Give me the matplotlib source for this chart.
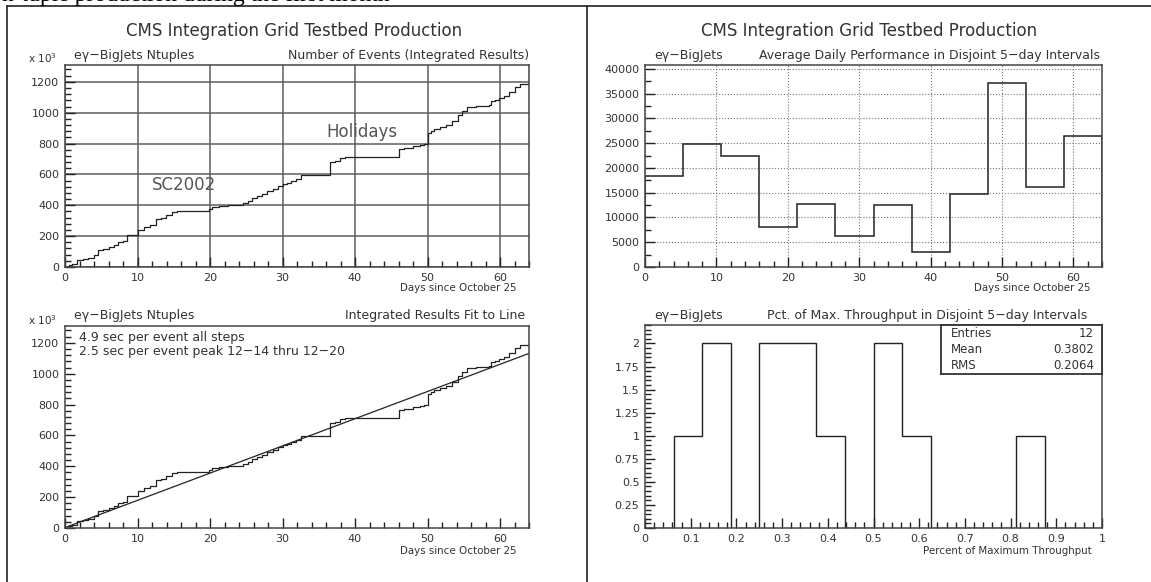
import numpy as np
import matplotlib
matplotlib.use("Agg")
import matplotlib.pyplot as plt
from matplotlib.lines import Line2D
from matplotlib.ticker import MultipleLocator, FormatStrFormatter

plt.rcParams['font.family'] = ['DejaVu Sans']

# cumulative events (thousands)
days = [0, 0.5, 1, 1.7, 2.5, 3.2, 4, 4.6, 5.3, 6, 6.7, 7.3, 8, 8.6, 9.3,
        10.1, 10.9, 11.7, 12.6, 13.2, 13.9, 14.7, 15.5, 17, 18.5, 19.8, 20.3,
        21.3, 22.5, 23.9, 24.5, 25.2, 25.8, 26.5, 27.2, 27.9, 28.7, 29.4, 30,
        30.6, 31.2, 31.8, 32.5, 36.6, 37.2, 37.9, 38.6, 46, 46.8, 48, 49, 49.5,
        50, 50.5, 50.9, 51.7, 52.6, 53.4, 54.2, 54.8, 55.5, 56.7, 58.5, 58.8,
        59.3, 59.8, 60.5, 61.3, 62.1, 62.8, 64]
events = [0, 12, 22, 45, 50, 56, 76, 113, 118, 130, 140, 163, 168, 205, 207,
          238, 260, 270, 308, 315, 336, 355, 360, 362, 365, 375, 392,
          397, 400, 402, 412, 428, 445, 462, 472, 495, 505, 522, 540,
          545, 555, 570, 598, 680, 690, 705, 712, 766, 770, 782, 790, 798,
          868, 880, 892, 905, 918, 945, 985, 1010, 1035, 1042, 1048, 1075,
          1085, 1092, 1108, 1133, 1168, 1185, 1190]

# straight line fit (thousands of events per day)
fit_slope = 17.63
fit_offset = 3.0

# average daily performance in 12 disjoint intervals
daily_avg = [18440, 24750, 22500, 8140, 12680, 6300, 12610, 3050, 14780,
             37090, 16140, 26440]

# percent of max throughput histogram (16 bins over 0..1)
pct_counts = [0, 1, 2, 0, 2, 2, 1, 0, 2, 1, 0, 0, 0, 1, 0, 0]
stats_rows = [("Entries", "12"), ("Mean", "0.3802"), ("RMS", "0.2064")]

W, H = 1151, 582
fig = plt.figure(figsize=(W / 100, H / 100), dpi=100)

txt = '#333333'
ink = '#222222'

def px(x0, y0, x1, y1):
    return [x0 / W, 1 - y1 / H, (x1 - x0) / W, (y1 - y0) / H]

def style(ax, xmaj, xmin, ymaj, ymin):
    ax.xaxis.set_major_locator(MultipleLocator(xmaj))
    ax.xaxis.set_minor_locator(MultipleLocator(xmin))
    ax.yaxis.set_major_locator(MultipleLocator(ymaj))
    ax.yaxis.set_minor_locator(MultipleLocator(ymin))
    ax.tick_params(which='both', direction='in', top=False, right=False,
                   colors=ink, labelcolor=txt, labelsize=8, width=1)
    ax.tick_params(which='major', length=7, pad=4)
    ax.tick_params(which='minor', length=4)
    for s in ax.spines.values():
        s.set_color('#444444')
        s.set_linewidth(1.1)

# ---- top left: integrated events
ax1 = fig.add_axes(px(65, 65, 529, 267))
ax1.step(days, events, where='post', color=ink, lw=0.9)
ax1.set_xlim(0, 64)
ax1.set_ylim(0, 1309)
style(ax1, 10, 2, 200, 40)
ax1.grid(True, which='major', color='#5e5e5e', lw=1.1, ls='-')
ax1.set_axisbelow(True)
ax1.text(12, 500, "SC2002", fontsize=12, color='#555555')
ax1.text(36.1, 842, "Holidays", fontsize=12, color='#555555')

# ---- bottom left: fit to line
ax3 = fig.add_axes(px(65, 326, 529, 528))
ax3.step(days, events, where='post', color=ink, lw=0.9)
xs = np.array([0, 64])
ax3.plot(xs, fit_offset + fit_slope * xs, color=ink, lw=0.9)
ax3.set_xlim(0, 64)
ax3.set_ylim(0, 1309)
style(ax3, 10, 2, 200, 40)
ax3.text(0.03, 0.975, "4.9 sec per event all steps\n2.5 sec per event peak 12\u221214 thru 12\u221220",
         transform=ax3.transAxes, fontsize=9, color=txt, va='top', linespacing=1.1)

# ---- top right: daily performance
ax2 = fig.add_axes(px(645, 65, 1102, 267))
ax2.stairs(daily_avg, np.linspace(0, 64, len(daily_avg) + 1), color=ink, lw=1.1)
ax2.set_xlim(0, 64)
ax2.set_ylim(0, 40800)
style(ax2, 10, 2, 5000, 2500)
ax2.grid(True, which='major', color='#777777', lw=0.8, ls=':')
ax2.set_axisbelow(True)

# ---- bottom right: percent of max throughput
ax4 = fig.add_axes(px(645, 325, 1102, 528))
ax4.stairs(pct_counts, np.linspace(0, 1, len(pct_counts) + 1), color=ink, lw=1.0)
ax4.set_xlim(0, 1)
ax4.set_ylim(0, 2.2)
style(ax4, 0.1, 0.02, 0.25, 0.05)
ax4.xaxis.set_major_formatter(lambda v, pos: "%g" % round(v, 3))
ax4.yaxis.set_major_formatter(lambda v, pos: "%g" % round(v, 3))
# stats box
bx0, by0, bx1, by1 = 941, 325, 1102, 374
box = fig.add_axes(px(bx0, by0, bx1, by1))
box.set_xticks([])
box.set_yticks([])
for s in box.spines.values():
    s.set_color('#333333')
    s.set_linewidth(1.3)
for i, (k, v) in enumerate(stats_rows):
    yy = 1 - (i + 0.5) / len(stats_rows)
    box.text(0.06, yy, k, fontsize=8.5, color=txt, va='center', ha='left')
    box.text(0.95, yy, v, fontsize=8.5, color=txt, va='center', ha='right')

# ---- titles and labels (pixel positions)
def ftext(x, y, s, **kw):
    kw.setdefault('color', txt)
    fig.text(x / W, 1 - y / H, s, **kw)

title = "CMS Integration Grid Testbed Production"
ftext(294, 31, title, fontsize=12, ha='center', va='center')
ftext(869, 31, title, fontsize=12, ha='center', va='center')

ftext(74, 55, "e\u03b3\u2212BigJets Ntuples", fontsize=9, va='center')
ftext(529, 55, "Number of Events (Integrated Results)", fontsize=9, ha='right', va='center')
ftext(654, 55, "e\u03b3\u2212BigJets", fontsize=9, va='center')
ftext(1100, 55, "Average Daily Performance in Disjoint 5\u2212day Intervals", fontsize=9,
      ha='right', va='center')
ftext(74, 316, "e\u03b3\u2212BigJets Ntuples", fontsize=9, va='center')
ftext(525, 316, "Integrated Results Fit to Line", fontsize=9, ha='right', va='center')
ftext(654, 316, "e\u03b3\u2212BigJets", fontsize=9, va='center')
ftext(1087, 316, "Pct. of Max. Throughput in Disjoint 5\u2212day Intervals", fontsize=9,
      ha='right', va='center')

ftext(28, 58, r"x 10$^3$", fontsize=7.5, va='center')
ftext(28, 320, r"x 10$^3$", fontsize=7.5, va='center')

ftext(517, 288, "Days since October 25", fontsize=7.4, ha='right', va='center')
ftext(517, 551, "Days since October 25", fontsize=7.4, ha='right', va='center')
ftext(1090, 288, "Days since October 25", fontsize=7.4, ha='right', va='center')
ftext(1092, 551, "Percent of Maximum Throughput", fontsize=7.4, ha='right', va='center')

# caption line of the page, cut by the top edge as in the scan
ftext(2, 1, "n-tuple production during the first month", fontsize=17,
      family='Liberation Serif', color='black', va='baseline')

# frame lines
fig.add_artist(Line2D([7 / W, 1], [1 - 6 / H, 1 - 6 / H], color='#222222', lw=1.2))
fig.add_artist(Line2D([7 / W, 7 / W], [0, 1 - 6 / H], color='#222222', lw=1.2))
fig.add_artist(Line2D([587 / W, 587 / W], [0, 1 - 6 / H], color='#222222', lw=1.2))

fig.savefig("out.png", dpi=100)
